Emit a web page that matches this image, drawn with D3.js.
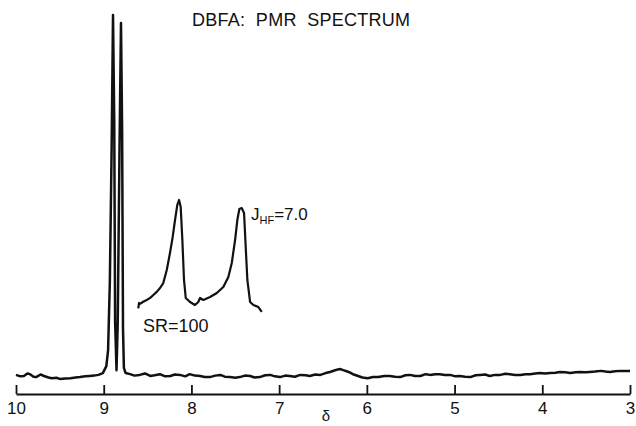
<!DOCTYPE html>
<html>
<head>
<meta charset="utf-8">
<script src="https://cdn.jsdelivr.net/npm/d3@7"></script>
<style>
  body { margin: 0; background: #fff; }
  svg text { font-family: "Liberation Sans", Arial, sans-serif; fill: #111; }
</style>
</head>
<body>
<div id="chart"></div>
<script>
// main trace: chemical shift (ppm) and intensity (arbitrary, 0-100)
const shift = [10.0, 9.95, 9.91, 9.87, 9.84, 9.8, 9.77, 9.72, 9.68, 9.63, 9.59, 9.54, 9.5, 9.44, 9.38, 9.32, 9.27, 9.21, 9.16, 9.11, 9.06, 9.01,
  8.97, 8.95, 8.93, 8.91, 8.894, 8.88, 8.87, 8.854, 8.84, 8.82, 8.803, 8.79, 8.78, 8.77, 8.75, 8.7,
  8.65, 8.59, 8.53, 8.47, 8.42, 8.36, 8.3, 8.24, 8.19, 8.13, 8.07, 8.02, 7.96, 7.9, 7.85, 7.79, 7.73, 7.67, 7.62, 7.56, 7.5, 7.45,
  7.39, 7.33, 7.28, 7.22, 7.16, 7.1, 7.05, 6.99, 6.93, 6.88, 6.82, 6.76, 6.7, 6.65, 6.59, 6.53, 6.47, 6.42, 6.37, 6.33, 6.3, 6.27,
  6.23, 6.19, 6.15, 6.1, 6.05, 5.99, 5.93, 5.87, 5.8, 5.74, 5.68, 5.62, 5.56, 5.51, 5.45, 5.39, 5.33, 5.28, 5.22, 5.17, 5.11, 5.05,
  4.99, 4.94, 4.88, 4.82, 4.76, 4.71, 4.65, 4.6, 4.54, 4.48, 4.42, 4.37, 4.31, 4.25, 4.19, 4.14, 4.08, 4.03, 3.97, 3.91, 3.85, 3.8,
  3.74, 3.68, 3.62, 3.57, 3.51, 3.46, 3.4, 3.33, 3.28, 3.23, 3.17, 3.11, 3.05, 3.0];
const intensity = [1.4, 1.0, 1.1, 1.8, 1.6, 0.9, 0.8, 1.5, 1.1, 0.7, 0.5, 0.6, 0.3, 0.4, 0.5, 0.7, 0.8, 1.0, 1.1, 1.2, 1.4, 1.9,
  3.8, 8.2, 27, 63, 100, 71, 16, 2.7, 16, 63, 97.8, 68, 14, 3.3, 1.9, 1.6,
  1.2, 1.4, 1.8, 1.1, 1.3, 1.6, 1.0, 1.1, 1.5, 1.4, 1.0, 1.6, 1.2, 1.1, 0.8, 0.8, 1.2, 1.4, 0.9, 0.8, 0.6, 0.8,
  1.2, 1.1, 0.7, 0.8, 1.3, 1.4, 1.0, 0.8, 1.2, 1.1, 0.9, 1.4, 1.3, 1.1, 1.5, 1.4, 1.9, 2.2, 2.6, 2.9, 3.0, 2.7,
  2.4, 2.0, 1.5, 1.1, 0.7, 0.5, 0.8, 0.8, 1.1, 1.1, 0.9, 0.8, 1.3, 1.4, 1.1, 1.1, 1.6, 1.4, 1.6, 1.6, 1.4, 1.4,
  1.0, 1.1, 0.9, 0.8, 1.3, 1.4, 1.5, 1.1, 1.4, 1.4, 1.7, 1.6, 1.4, 1.4, 1.6, 1.6, 1.8, 1.9, 1.8, 1.9, 2.0, 2.2,
  2.1, 1.9, 2.1, 2.2, 2.1, 2.2, 2.3, 2.5, 2.3, 2.2, 2.4, 2.5, 2.5, 2.5];

// expanded inset (sweep range 100): offset in Hz and intensity (0-100)
const insetHz = [0.03, 0.12, 0.23, 0.6, 1.0, 1.4, 1.76, 2.15, 2.53, 2.9, 3.3, 3.67, 3.98, 4.25, 4.51, 4.71, 4.9, 5.09, 5.28, 5.48,
  5.97, 6.54, 6.92, 7.12, 7.5, 8.27, 9.04, 9.79, 10.37, 10.76, 11.14, 11.4, 11.63, 11.9, 12.17, 12.36, 12.55, 12.86, 13.24, 13.81, 14.2];
const insetI = [1.5, 6.5, 5.5, 7.5, 9.1, 11.0, 13.6, 16.5, 20, 24.5, 36.4, 51.8, 66.4, 81.8, 95.5, 100, 93.6, 63.6, 27.3, 10.9,
  7.3, 4.5, 7.3, 10.9, 9.1, 11.8, 15.5, 20.9, 30, 42.7, 63.6, 81.8, 91.8, 92.7, 88.2, 57.3, 27.3, 7.3, 4.5, 2.7, -1.8];

const axisTicks = [10, 9, 8, 7, 6, 5, 4, 3];

const width = 636, height = 426;
const svg = d3.select("#chart").append("svg").attr("width", width).attr("height", height);

const x = d3.scaleLinear().domain([10, 3]).range([16, 630]);
const y = d3.scaleLinear().domain([0, 100]).range([380, 15]);

const xi = d3.scaleLinear().domain([0, 7]).range([138, 199]);
const yi = d3.scaleLinear().domain([0, 100]).range([310, 200]);

const line = d3.line().x((d) => x(d[0])).y((d) => y(d[1]));
const insetLine = d3.line().x((d) => xi(d[0])).y((d) => yi(d[1]));

svg.append("path")
  .datum(d3.zip(shift, intensity))
  .attr("d", line)
  .attr("fill", "none")
  .attr("stroke", "#111")
  .attr("stroke-width", 2.5)
  .attr("stroke-linejoin", "round");

svg.append("path")
  .datum(d3.zip(insetHz, insetI))
  .attr("d", insetLine)
  .attr("fill", "none")
  .attr("stroke", "#111")
  .attr("stroke-width", 2.2)
  .attr("stroke-linejoin", "round");

// ppm axis, ticks pointing up
const axis = svg.append("g")
  .attr("transform", "translate(0,394)")
  .call(d3.axisBottom(x).tickValues(axisTicks).tickFormat(d3.format("d")).tickSizeInner(-9).tickSizeOuter(0).tickPadding(8));
axis.select(".domain").attr("stroke", "#111").attr("stroke-width", 1.8);
axis.selectAll(".tick line").attr("stroke", "#111").attr("stroke-width", 1.8);
axis.selectAll(".tick text").attr("font-size", 17).attr("fill", "#111")
  .style("font-family", "'Liberation Sans', Arial, sans-serif");

svg.append("text").attr("x", 326).attr("y", 421).attr("text-anchor", "middle")
  .attr("font-size", 15).text("δ");

svg.append("text").attr("x", 192).attr("y", 26).attr("font-size", 18)
  .attr("textLength", 218).attr("xml:space", "preserve").text("DBFA:  PMR  SPECTRUM");

const j = svg.append("text").attr("x", 251).attr("y", 220).attr("font-size", 17);
j.append("tspan").text("J");
j.append("tspan").attr("font-size", 11).attr("dy", 4).text("HF");
j.append("tspan").attr("dy", -4).text("=7.0");

svg.append("text").attr("x", 143).attr("y", 332).attr("font-size", 18).text("SR=100");
</script>
</body>
</html>
